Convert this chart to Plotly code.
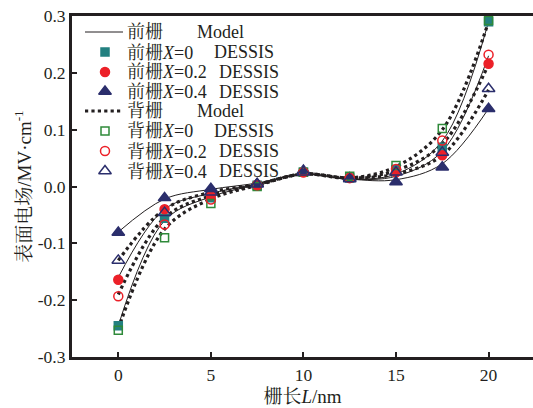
import plotly.graph_objects as go

# Gate position along the channel (nm)
gate_len = [0, 2.5, 5, 7.5, 10, 12.5, 15, 17.5, 20]

# DESSIS simulation, front gate (MV/cm)
front_x0 = [-0.245, -0.056, -0.020, 0.002, 0.025, 0.015, 0.030, 0.069, 0.290]
front_x2 = [-0.164, -0.040, -0.015, 0.003, 0.025, 0.015, 0.025, 0.055, 0.216]
front_x4 = [-0.081, -0.020, -0.004, 0.005, 0.028, 0.015, 0.008, 0.034, 0.137]

# DESSIS simulation, back gate (MV/cm)
back_x0 = [-0.253, -0.090, -0.030, 0.000, 0.025, 0.018, 0.037, 0.102, 0.292]
back_x2 = [-0.193, -0.067, -0.023, 0.002, 0.025, 0.015, 0.031, 0.081, 0.232]
back_x4 = [-0.130, -0.046, -0.010, 0.004, 0.025, 0.013, 0.025, 0.060, 0.172]

# Analytical model curves
model_front = [
    [-0.245, -0.060, -0.018, 0.003, 0.022, 0.013, 0.022, 0.080, 0.290],
    [-0.160, -0.040, -0.012, 0.004, 0.022, 0.013, 0.018, 0.062, 0.230],
    [-0.080, -0.022, -0.005, 0.006, 0.022, 0.013, 0.012, 0.040, 0.137],
]
model_back = [
    [-0.250, -0.075, -0.022, 0.002, 0.022, 0.015, 0.035, 0.100, 0.290],
    [-0.190, -0.055, -0.016, 0.003, 0.022, 0.015, 0.028, 0.075, 0.215],
    [-0.130, -0.040, -0.010, 0.004, 0.022, 0.015, 0.022, 0.055, 0.170],
]

y_ticks = [-0.3, -0.2, -0.1, 0.0, 0.1, 0.2, 0.3]
y_tick_text = ["-0.3", "-0.2", "-0.1", "0.0", "0.1", "0.2", "0.3"]
x_ticks = [0, 5, 10, 15, 20]

TEAL = "#238080"
RED = "#ec2028"
NAVY = "#2b2e6c"
GREEN = "#2f8a3a"
INK = "#231f20"

W, H = 533, 408
ML, MR, MT, MB = 72, 0, 16, 51
PW, PH = W - ML - MR, H - MT - MB


def fx(px):
    """page pixel x -> paper fraction"""
    return (px - ML) / PW


def fy(py):
    """page pixel y -> paper fraction"""
    return 1 - (py - MT) / PH


serif = "Liberation Serif, Times New Roman, Noto Serif CJK SC, Noto Sans CJK SC, serif"

fig = go.Figure()

# model curves below the markers
for ys in model_front:
    fig.add_trace(go.Scatter(
        x=gate_len, y=ys, mode="lines", showlegend=False, hoverinfo="skip",
        line=dict(color=INK, width=1, shape="spline", smoothing=1.0)))
for ys in model_back:
    fig.add_trace(go.Scatter(
        x=gate_len, y=ys, mode="lines", showlegend=False, hoverinfo="skip",
        line=dict(color=INK, width=3.2, dash="dot", shape="spline", smoothing=1.0)))

# (label, tail, values, symbol, colour, size)
series = [
    ("前栅<i>X</i>=0", "DESSIS", front_x0, "square", TEAL, 8),
    ("前栅<i>X</i>=0.2", "DESSIS", front_x2, "circle", RED, 9),
    ("前栅<i>X</i>=0.4", "DESSIS", front_x4, "triangle-up", NAVY, 11),
    ("背栅<i>X</i>=0", "DESSIS", back_x0, "square-open", GREEN, 8),
    ("背栅<i>X</i>=0.2", "DESSIS", back_x2, "circle-open", RED, 9),
    ("背栅<i>X</i>=0.4", "DESSIS", back_x4, "triangle-up-open", NAVY, 11),
]
for label, tail, ys, sym, col, sz in series:
    fig.add_trace(go.Scatter(
        x=gate_len, y=ys, mode="markers", showlegend=False,
        marker=dict(symbol=sym, size=sz, color=col, line=dict(color=col, width=1.5))))

# hand-built legend block (keys on an overlay axis spanning the plot area)
row_y = [32, 52, 72, 91.5, 111, 131, 151, 171]
key_x0, key_x1, key_mid = 85, 123, 105
text_x = 127
legend_rows = [
    ("前栅", "Model", 197, dict(kind="line", dash="solid", width=1)),
    (series[0][0], "DESSIS", 214, series[0]),
    (series[1][0], "DESSIS", 219, series[1]),
    (series[2][0], "DESSIS", 219, series[2]),
    ("背栅", "Model", 197, dict(kind="line", dash="dot", width=3.2)),
    (series[3][0], "DESSIS", 214, series[3]),
    (series[4][0], "DESSIS", 219, series[4]),
    (series[5][0], "DESSIS", 219, series[5]),
]
annotations = []
for (label, tail, tail_x, key), py in zip(legend_rows, row_y):
    if isinstance(key, dict):
        fig.add_trace(go.Scatter(
            x=[fx(key_x0), fx(key_x1)], y=[fy(py), fy(py)], mode="lines",
            xaxis="x2", yaxis="y2", showlegend=False, hoverinfo="skip",
            line=dict(color=INK, width=key["width"], dash=key["dash"])))
    else:
        _, _, _, sym, col, sz = key
        fig.add_trace(go.Scatter(
            x=[fx(key_mid)], y=[fy(py)], mode="markers",
            xaxis="x2", yaxis="y2", showlegend=False, hoverinfo="skip",
            marker=dict(symbol=sym, size=sz, color=col, line=dict(color=col, width=1.5))))
    annotations.append(dict(
        text=label, x=fx(text_x - 2), y=fy(py), xref="paper", yref="paper",
        xanchor="left", yanchor="middle", showarrow=False,
        font=dict(family=serif, size=18, color=INK)))
    annotations.append(dict(
        text=tail, x=fx(tail_x - 2), y=fy(py), xref="paper", yref="paper",
        xanchor="left", yanchor="middle", showarrow=False,
        font=dict(family=serif, size=18, color=INK)))

axis_common = dict(
    showline=True, linecolor=INK, linewidth=3,
    ticks="inside", ticklen=5, tickwidth=1.5, tickcolor=INK,
    showgrid=False, zeroline=False,
    tickfont=dict(family=serif, size=17.5, color=INK),
)

fig.update_layout(
    width=W, height=H,
    margin=dict(l=ML, r=MR, t=MT, b=MB),
    paper_bgcolor="white", plot_bgcolor="white",
    font=dict(family=serif, size=18, color=INK),
    showlegend=False,
    xaxis=dict(range=[-2.5, 22.4], tickvals=x_ticks, mirror=True,
               title=dict(text="栅长<i>L</i>/nm", font=dict(size=19), standoff=6),
               **axis_common),
    yaxis=dict(range=[-0.3, 0.3], tickvals=y_ticks, ticktext=y_tick_text, mirror=False,
               title=dict(text="表面电场/MV·cm<sup>-1</sup>", font=dict(size=19), standoff=2),
               **axis_common),
    xaxis2=dict(overlaying="x", range=[0, 1], visible=False, fixedrange=True),
    yaxis2=dict(overlaying="y", range=[0, 1], visible=False, fixedrange=True),
    annotations=annotations,
)

fig.write_html("out.html")
